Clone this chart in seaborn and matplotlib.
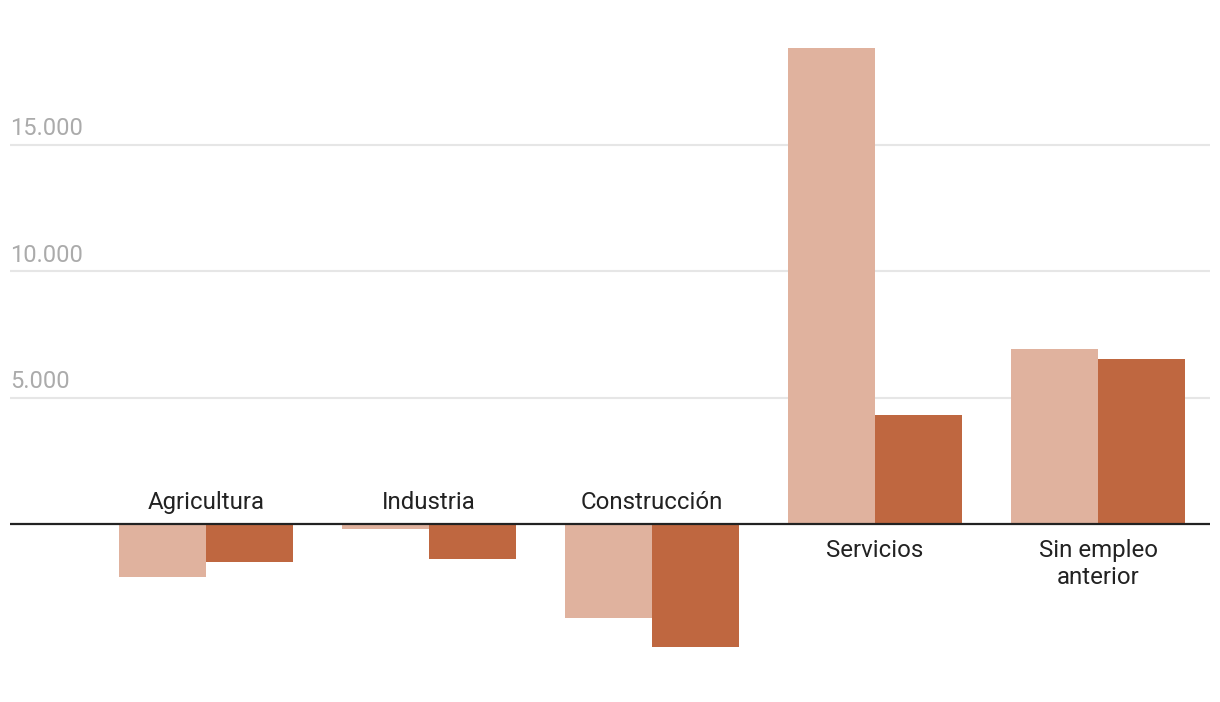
import pandas as pd
import matplotlib
matplotlib.use("Agg")
import matplotlib.pyplot as plt
import matplotlib.transforms as mtransforms
import seaborn as sns

# ---- data ----
categories = ["Agricultura", "Industria", "Construcción", "Servicios", "Sin empleo\nanterior"]
series_names = ["Serie 1", "Serie 2"]
serie_1 = [-2110, -210, -3740, 18850, 6930]
serie_2 = [-1520, -1400, -4880, 4310, 6530]
y_ticks = [5000, 10000, 15000]
y_tick_labels = ["5.000", "10.000", "15.000"]

colors = ["#E0B29E", "#BF6740"]

df = pd.DataFrame({
    "categoria": categories * 2,
    "serie": [series_names[0]] * len(categories) + [series_names[1]] * len(categories),
    "valor": serie_1 + serie_2,
})

sns.set_style("white")
plt.rcParams["font.family"] = ["Roboto", "DejaVu Sans"]

fig = plt.figure(figsize=(12.2, 7.02), dpi=100)
ax = fig.add_axes([10 / 1220, 0, 1200 / 1220, 1])

sns.barplot(data=df, x="categoria", y="valor", hue="serie", order=categories,
            hue_order=series_names, palette=colors, width=0.78, saturation=1,
            legend=False, ax=ax, zorder=2)
for p in ax.patches:
    p.set_linewidth(0)

ax.set_xlim(-0.879, 4.502)
ax.set_ylim(-7047, 20744)

# grid + zero line
for t in y_ticks:
    ax.axhline(t, color="#E6E6E6", linewidth=1.5, zorder=1)
ax.axhline(0, color="#222222", linewidth=1.6, zorder=3)

# y labels drawn above gridlines, at left edge
trans = mtransforms.blended_transform_factory(ax.transAxes, ax.transData)
for t, lab in zip(y_ticks, y_tick_labels):
    ax.annotate(lab, xy=(0, t), xycoords=trans, xytext=(0, 7), textcoords="offset points",
                ha="left", va="baseline", fontsize=17, color="#ABABAB")

# category labels: above the zero line for negative groups, below for positive
for i, cat in enumerate(categories):
    if max(serie_1[i], serie_2[i]) <= 0:
        ax.annotate(cat, xy=(i, 0), xytext=(0, 11), textcoords="offset points",
                    ha="center", va="baseline", fontsize=17.3, color="#222222")
    else:
        ax.annotate(cat, xy=(i, 0), xytext=(0, -10.5), textcoords="offset points",
                    ha="center", va="top", fontsize=17.3, color="#222222",
                    linespacing=1.25)

ax.set_xlabel("")
ax.set_ylabel("")
ax.set_xticks([])
ax.set_yticks([])
sns.despine(ax=ax, left=True, bottom=True)

fig.savefig("out.png", dpi=100)
